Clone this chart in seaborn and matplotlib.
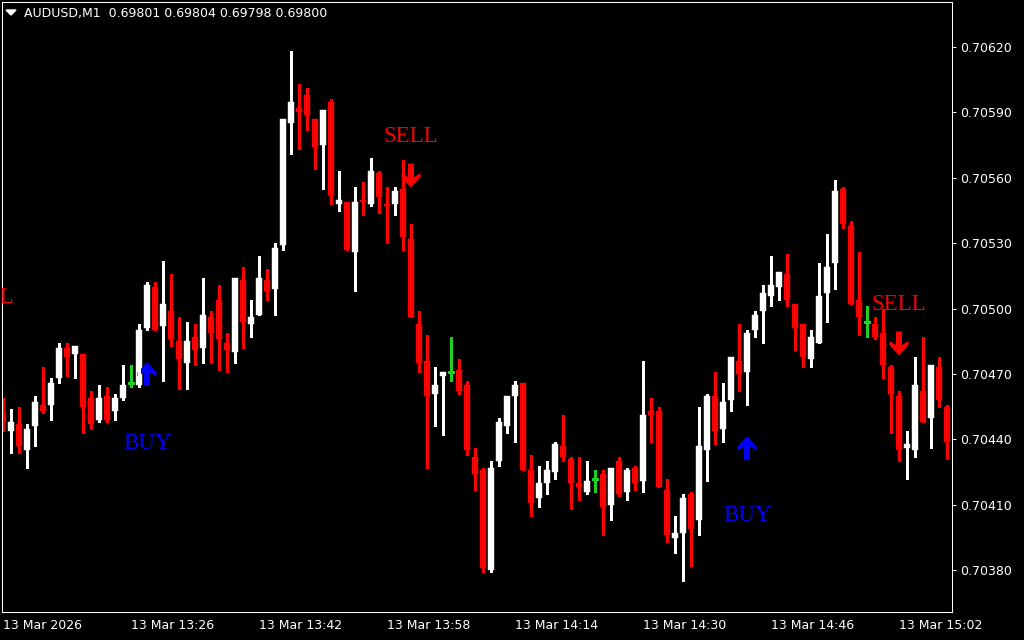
"""
MT4 style AUDUSD M1 candle chart with BUY / SELL signal arrows.
"""

import numpy as np
import pandas as pd
import seaborn as sns
import matplotlib.pyplot as plt
from matplotlib.path import Path
from matplotlib.patches import Polygon


# =========================== INPUTS ===================================

opens = [0.70452, 0.70444, 0.70447, 0.70435, 0.70446, 0.70456, 0.70456, 0.70468,
         0.70482, 0.70479, 0.70479, 0.70459, 0.70449, 0.70460, 0.70453, 0.70459,
         0.70466, 0.70465, 0.70491, 0.70510, 0.70492, 0.70499, 0.70485, 0.70475,
         0.70487, 0.70482, 0.70496, 0.70504, 0.70484, 0.70480, 0.70513, 0.70493,
         0.70497, 0.70513, 0.70509, 0.70529, 0.70585, 0.70592, 0.70598, 0.70587,
         0.70575, 0.70595, 0.70548, 0.70549, 0.70526, 0.70550, 0.70548, 0.70562,
         0.70548, 0.70548, 0.70555, 0.70532, 0.70493, 0.70476, 0.70461, 0.70469,
         0.70471, 0.70472, 0.70465, 0.70432, 0.70426, 0.70380, 0.70430, 0.70446,
         0.70460, 0.70466, 0.70426, 0.70413, 0.70420, 0.70425, 0.70437, 0.70431,
         0.70420, 0.70416, 0.70422, 0.70424, 0.70410, 0.70430, 0.70416, 0.70427,
         0.70421, 0.70453, 0.70453, 0.70417, 0.70395, 0.70397, 0.70415, 0.70403,
         0.70435, 0.70460, 0.70445, 0.70458, 0.70476, 0.70471, 0.70490, 0.70499,
         0.70506, 0.70510, 0.70516, 0.70502, 0.70493, 0.70477, 0.70484, 0.70507,
         0.70521, 0.70555, 0.70538, 0.70504, 0.70494, 0.70493, 0.70489, 0.70473,
         0.70460, 0.70436, 0.70435, 0.70462, 0.70450, 0.70473, 0.70455]
highs = [0.70459, 0.70454, 0.70455, 0.70447, 0.70460, 0.70473, 0.70468, 0.70484,
         0.70484, 0.70483, 0.70479, 0.70462, 0.70465, 0.70464, 0.70461, 0.70474,
         0.70474, 0.70493, 0.70512, 0.70512, 0.70522, 0.70516, 0.70496, 0.70494,
         0.70493, 0.70514, 0.70499, 0.70511, 0.70489, 0.70514, 0.70519, 0.70504,
         0.70524, 0.70518, 0.70530, 0.70587, 0.70618, 0.70603, 0.70601, 0.70587,
         0.70591, 0.70596, 0.70563, 0.70549, 0.70556, 0.70558, 0.70569, 0.70563,
         0.70556, 0.70556, 0.70568, 0.70539, 0.70499, 0.70488, 0.70473, 0.70471,
         0.70487, 0.70477, 0.70467, 0.70436, 0.70427, 0.70430, 0.70450, 0.70460,
         0.70467, 0.70466, 0.70433, 0.70428, 0.70430, 0.70439, 0.70451, 0.70432,
         0.70432, 0.70430, 0.70426, 0.70426, 0.70427, 0.70432, 0.70427, 0.70428,
         0.70476, 0.70459, 0.70455, 0.70422, 0.70405, 0.70415, 0.70416, 0.70455,
         0.70461, 0.70471, 0.70466, 0.70478, 0.70493, 0.70490, 0.70499, 0.70511,
         0.70524, 0.70517, 0.70525, 0.70502, 0.70493, 0.70490, 0.70521, 0.70534,
         0.70559, 0.70556, 0.70540, 0.70526, 0.70501, 0.70496, 0.70500, 0.70474,
         0.70462, 0.70444, 0.70478, 0.70487, 0.70474, 0.70478, 0.70456]
lows = [0.70444, 0.70434, 0.70434, 0.70427, 0.70437, 0.70452, 0.70449, 0.70466,
        0.70469, 0.70468, 0.70443, 0.70445, 0.70448, 0.70448, 0.70449, 0.70458,
        0.70464, 0.70464, 0.70490, 0.70490, 0.70467, 0.70483, 0.70463, 0.70463,
        0.70474, 0.70475, 0.70475, 0.70472, 0.70471, 0.70475, 0.70482, 0.70487,
        0.70497, 0.70504, 0.70497, 0.70527, 0.70571, 0.70573, 0.70582, 0.70564,
        0.70555, 0.70548, 0.70545, 0.70527, 0.70508, 0.70543, 0.70547, 0.70544,
        0.70530, 0.70543, 0.70527, 0.70496, 0.70471, 0.70427, 0.70446, 0.70442,
        0.70467, 0.70461, 0.70433, 0.70417, 0.70379, 0.70379, 0.70428, 0.70443,
        0.70439, 0.70426, 0.70405, 0.70409, 0.70415, 0.70422, 0.70430, 0.70408,
        0.70412, 0.70415, 0.70416, 0.70396, 0.70403, 0.70414, 0.70412, 0.70417,
        0.70416, 0.70439, 0.70418, 0.70393, 0.70388, 0.70375, 0.70382, 0.70396,
        0.70421, 0.70438, 0.70439, 0.70453, 0.70462, 0.70456, 0.70487, 0.70484,
        0.70501, 0.70504, 0.70501, 0.70481, 0.70473, 0.70473, 0.70484, 0.70494,
        0.70509, 0.70537, 0.70502, 0.70488, 0.70487, 0.70486, 0.70468, 0.70443,
        0.70430, 0.70422, 0.70432, 0.70448, 0.70436, 0.70455, 0.70431]
closes = [0.70448, 0.70448, 0.70437, 0.70445, 0.70457, 0.70453, 0.70466, 0.70482,
          0.70478, 0.70483, 0.70455, 0.70447, 0.70459, 0.70449, 0.70459, 0.70465,
          0.70466, 0.70490, 0.70511, 0.70490, 0.70502, 0.70486, 0.70477, 0.70485,
          0.70481, 0.70497, 0.70489, 0.70486, 0.70481, 0.70514, 0.70494, 0.70496,
          0.70514, 0.70508, 0.70528, 0.70587, 0.70595, 0.70590, 0.70589, 0.70574,
          0.70591, 0.70552, 0.70550, 0.70527, 0.70549, 0.70549, 0.70563, 0.70551,
          0.70547, 0.70554, 0.70533, 0.70496, 0.70475, 0.70460, 0.70465, 0.70471,
          0.70471, 0.70462, 0.70435, 0.70424, 0.70381, 0.70427, 0.70448, 0.70460,
          0.70465, 0.70426, 0.70411, 0.70420, 0.70426, 0.70438, 0.70432, 0.70420,
          0.70418, 0.70421, 0.70422, 0.70409, 0.70427, 0.70415, 0.70426, 0.70420,
          0.70451, 0.70451, 0.70418, 0.70396, 0.70397, 0.70413, 0.70399, 0.70437,
          0.70460, 0.70444, 0.70457, 0.70478, 0.70470, 0.70489, 0.70497, 0.70507,
          0.70511, 0.70517, 0.70504, 0.70491, 0.70478, 0.70487, 0.70506, 0.70519,
          0.70554, 0.70539, 0.70502, 0.70496, 0.70494, 0.70487, 0.70474, 0.70461,
          0.70435, 0.70438, 0.70465, 0.70448, 0.70474, 0.70458, 0.70439]

time_ticks = [0, 16, 32, 48, 64, 80, 96, 112]
time_labels = ['13 Mar 2026', '13 Mar 13:26', '13 Mar 13:42', '13 Mar 13:58',
               '13 Mar 14:14', '13 Mar 14:30', '13 Mar 14:46', '13 Mar 15:02']
price_ticks = [0.70380, 0.70410, 0.70440, 0.70470, 0.70500,
               0.70530, 0.70560, 0.70590, 0.70620]

# Signals (bar index, type, arrow price, label price)
signal_bars = [-2, 18, 51, 93, 112]
signal_kind = ['SELL', 'BUY', 'SELL', 'BUY', 'SELL']
arrow_prices = [0.70521, 0.70470, 0.70561, 0.70436, 0.70484]
label_prices = [0.70505, 0.70438, 0.70579, 0.70405, 0.70502]

header = 'AUDUSD,M1  0.69801 0.69804 0.69798 0.69800'


# ========================== FUNCTIONS =================================

def arrow_marker(up=True):
    # Thick arrow like the MT4 wingdings arrow, y from -12 to 12
    verts = [(0, 12), (9.5, 1.5), (9.5, -2.5), (3, 1.5), (3, -12),
             (-3, -12), (-3, 1.5), (-9.5, -2.5), (-9.5, 1.5), (0, 12)]
    if not up:
        verts = [(x, -y) for x, y in verts]
    codes = [Path.MOVETO] + [Path.LINETO] * (len(verts) - 2) + [Path.CLOSEPOLY]
    return Path(verts, codes)


# ============================ RUN =====================================

sns.set_style('dark', {'axes.facecolor': 'black', 'figure.facecolor': 'black',
                       'axes.edgecolor': 'white', 'axes.grid': False,
                       'xtick.color': 'white', 'ytick.color': 'white',
                       'text.color': 'white'})
plt.rcParams['font.family'] = ['DejaVu Sans']

df = pd.DataFrame({'bar': np.arange(len(opens)), 'open': opens, 'high': highs,
                   'low': lows, 'close': closes})
df['color'] = np.where(df['close'] > df['open'], 'white',
                       np.where(df['close'] < df['open'], '#ff0000', '#20d020'))

fig = plt.figure(figsize=(10.24, 6.4), dpi=100)
ax = fig.add_axes([2 / 1024, 28 / 640, 950 / 1024, 610 / 640])

# Wicks
ax.vlines(df['bar'], df['low'], df['high'], colors=df['color'],
          linewidth=0.75, antialiased=False)

# Bodies
body = df[df['open'] != df['close']]
bottom = body[['open', 'close']].min(axis=1)
height = (body['close'] - body['open']).abs()
ax.bar(body['bar'], height, bottom=bottom, width=0.66, color=body['color'],
       edgecolor=body['color'], linewidth=0.3)

# Doji crosses
doji = df[df['open'] == df['close']]
ax.hlines(doji['open'], doji['bar'] - 0.32, doji['bar'] + 0.32,
          colors=doji['color'], linewidth=0.75, antialiased=False)

# Signals
sig = pd.DataFrame({'bar': signal_bars, 'kind': signal_kind,
                    'arrow': arrow_prices, 'label': label_prices})
for kind, color, up in [('BUY', '#0000ff', True), ('SELL', '#ff0000', False)]:
    part = sig[sig['kind'] == kind]
    sns.scatterplot(x=part['bar'], y=part['arrow'], marker=arrow_marker(up),
                    s=17.3 ** 2, color=color, edgecolor='none', linewidth=0,
                    ax=ax, legend=False)
    for _, row in part.iterrows():
        ax.text(row['bar'], row['label'], kind, ha='center', va='center',
                color=color, fontsize=16.5, family='Liberation Serif',
                clip_on=True)

# Axes limits and ticks
ax.set_xlim(-0.125, 118.625)
ax.set_ylim(0.7036084, 0.7064064)
ax.set_xlabel('')
ax.set_ylabel('')
ax.yaxis.tick_right()
ax.set_yticks(price_ticks)
ax.set_yticklabels([f'{p:.5f}' for p in price_ticks])
ax.set_xticks(time_ticks)
ax.set_xticklabels(time_labels, ha='left')
ax.tick_params(axis='both', colors='white', labelsize=9, length=3,
               width=0.75, direction='out')
ax.tick_params(axis='y', pad=2.5)
ax.tick_params(axis='x', pad=2)
for spine in ax.spines.values():
    spine.set_color('white')
    spine.set_linewidth(0.75)

# Header line
tri = Polygon([(6 / 1024, 1 - 10 / 640), (16 / 1024, 1 - 10 / 640),
               (11 / 1024, 1 - 15 / 640)], closed=True,
              transform=fig.transFigure, color='white')
fig.add_artist(tri)
fig.text(24 / 1024, 1 - 13 / 640, header, ha='left', va='center',
         fontsize=9, color='white')

fig.savefig('out.png', dpi=100, facecolor='black')
